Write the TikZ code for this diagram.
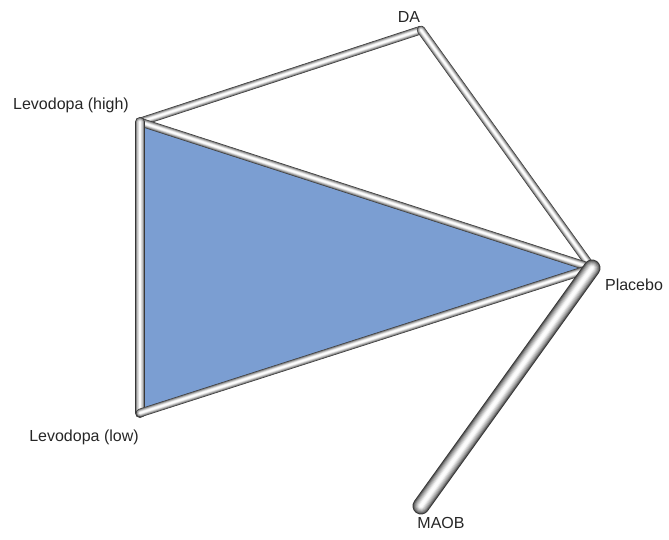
\documentclass[tikz,border=0pt]{standalone}
\usepackage{fontspec}
\setmainfont{Liberation Sans}
\definecolor{trifill}{RGB}{123,158,210}
\newcommand\tubeline[3]{%
  \foreach \f/\g in {1/55,0.88/100,0.76/140,0.64/170,0.52/195,0.40/220,0.28/242,0.16/252}{%
    \pgfmathsetmacro\lw{\f*#3}%
    \definecolor{tubecol}{RGB}{\g,\g,\g}%
    \draw[line cap=round,line join=round,tubecol,line width=\lw pt] (#1) -- (#2);
  }%
}
\tikzset{lab/.style={font=\fontsize{16}{18}\selectfont,text=black!85,inner sep=0pt}}
\begin{document}
\begin{tikzpicture}[x=1pt,y=-1pt]
\useasboundingbox (0,0) rectangle (669,540);
\coordinate (LH) at (140,122);
\coordinate (DA) at (421,30);
\coordinate (PL) at (592,268);
\coordinate (LL) at (140,413);
\coordinate (MA) at (421,506);
\fill[trifill] (LH) -- (PL) -- (LL) -- cycle;
\tubeline{LH}{DA}{8.5}
\tubeline{DA}{PL}{8.5}
\tubeline{LH}{PL}{8.5}
\tubeline{LH}{LL}{10}
\tubeline{LL}{PL}{8.5}
\tubeline{PL}{MA}{17}
\node[lab] (tLH) at (71,105) {Levodopa (high)};
\node[lab] (tDA) at (409,17) {DA};
\node[lab] (tPL) at (634,285) {Placebo};
\node[lab] (tLL) at (84,437) {Levodopa (low)};
\node[lab] (tMA) at (441,523) {MAOB};
\end{tikzpicture}
\end{document}
